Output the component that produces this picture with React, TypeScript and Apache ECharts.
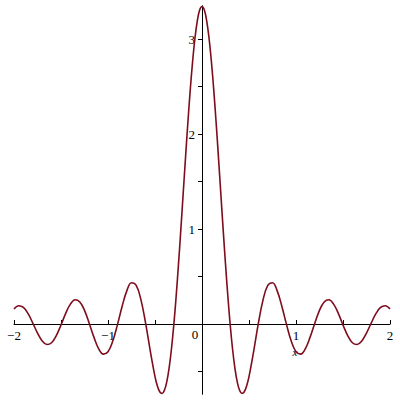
import React, { useEffect, useRef } from "react";
import * as echarts from "echarts";

const xValues = [
  -2, -1.95, -1.9, -1.85, -1.8, -1.75, -1.7, -1.65, -1.6, -1.55, -1.5, -1.45, -1.4, -1.35, -1.3, -1.25,
  -1.2, -1.15, -1.1, -1.05, -1, -0.95, -0.9, -0.85, -0.8, -0.75, -0.7, -0.65, -0.6, -0.55, -0.5, -0.475,
  -0.45, -0.425, -0.4, -0.375, -0.35, -0.325, -0.3, -0.275, -0.25, -0.225, -0.2, -0.175, -0.15, -0.125,
  -0.1, -0.075, -0.05, -0.025, 0,
  0.025, 0.05, 0.075, 0.1, 0.125, 0.15, 0.175, 0.2, 0.225, 0.25, 0.275, 0.3, 0.325, 0.35, 0.375, 0.4,
  0.425, 0.45, 0.475, 0.5, 0.55, 0.6, 0.65, 0.7, 0.75, 0.8, 0.85, 0.9, 0.95, 1, 1.05, 1.1, 1.15, 1.2,
  1.25, 1.3, 1.35, 1.4, 1.45, 1.5, 1.55, 1.6, 1.65, 1.7, 1.75, 1.8, 1.85, 1.9, 1.95, 2,
];

const yValues = [
  0.158, 0.192, 0.174, 0.109, 0.01, -0.095, -0.178, -0.216, -0.197, -0.122, -0.01, 0.112, 0.209, 0.255,
  0.232, 0.144, 0.009, -0.138, -0.259, -0.317, -0.292, -0.182, -0.009, 0.185, 0.349, 0.434, 0.406, 0.257,
  0.009, -0.285, -0.553, -0.651, -0.713, -0.731, -0.698, -0.61, -0.465, -0.263, -0.009, 0.292, 0.631,
  0.996, 1.376, 1.757, 2.124, 2.464, 2.762, 3.008, 3.191, 3.304, 3.342,
  3.304, 3.191, 3.008, 2.762, 2.464, 2.124, 1.757, 1.376, 0.996, 0.631, 0.292, -0.009, -0.263, -0.465,
  -0.61, -0.698, -0.731, -0.713, -0.651, -0.553, -0.285, 0.009, 0.257, 0.406, 0.434, 0.349, 0.185,
  -0.009, -0.182, -0.292, -0.317, -0.259, -0.138, 0.009, 0.144, 0.232, 0.255, 0.209, 0.112, -0.01,
  -0.122, -0.197, -0.216, -0.178, -0.095, 0.01, 0.109, 0.174, 0.192, 0.158,
];

const xTickValues = [-2, -1.5, -1, -0.5, 0.5, 1, 1.5, 2];
const xLabelValues = [-2, -1, 1, 2];
const yTickValues = [-0.5, 0.5, 1, 1.5, 2, 2.5, 3];
const yLabelValues = [1, 2, 3];

const FONT = "Liberation Serif";
const X_MIN = -2;
const X_MAX = 2;
const Y_MIN = -0.74;
const Y_MAX = 3.35;
const G_LEFT = 14;
const G_RIGHT = 10;
const G_TOP = 5.75;
const G_BOTTOM = 5.7;

function fmt(v: number) {
  return v < 0 ? "\u2212" + Math.abs(v) : String(v);
}

export default function App() {
  const ref = useRef<HTMLDivElement>(null);
  useEffect(() => {
    if (!ref.current) return;
    const chart = echarts.init(ref.current, null, { renderer: "svg" });
    const data = xValues.map((x, i) => [x, yValues[i]]);
    const gw = 400 - G_LEFT - G_RIGHT;
    const gh = 400 - G_TOP - G_BOTTOM;
    const zeroX = G_LEFT + ((0 - X_MIN) / (X_MAX - X_MIN)) * gw;
    const zeroY = G_TOP + ((Y_MAX - 0) / (Y_MAX - Y_MIN)) * gh;
    const xOffset = -(400 - G_BOTTOM - zeroY);
    const yOffset = -(zeroX - G_LEFT);
    chart.setOption({
      animation: false,
      backgroundColor: "#ffffff",
      grid: {
        left: G_LEFT,
        right: G_RIGHT,
        top: G_TOP,
        bottom: G_BOTTOM,
        containLabel: false,
        outerBoundsMode: "none",
      },
      xAxis: {
        type: "value",
        position: "bottom",
        offset: xOffset,
        min: X_MIN,
        max: X_MAX,
        axisLine: { show: true, onZero: false, lineStyle: { color: "#000", width: 1 } },
        axisTick: { show: true, inside: true, length: 4, customValues: xTickValues, lineStyle: { color: "#000" } },
        axisLabel: {
          show: true,
          customValues: xLabelValues,
          formatter: (v: number) => fmt(v),
          margin: 5,
          color: "#000",
          fontFamily: FONT,
          fontSize: 13,
        },
        splitLine: { show: false },
      },
      yAxis: {
        type: "value",
        position: "left",
        offset: yOffset,
        min: Y_MIN,
        max: Y_MAX,
        axisLine: { show: true, onZero: false, lineStyle: { color: "#000", width: 1 } },
        axisTick: { show: true, inside: false, length: 4, customValues: yTickValues, lineStyle: { color: "#000" } },
        axisLabel: {
          show: true,
          customValues: yLabelValues,
          formatter: (v: number) => fmt(v),
          margin: 7,
          color: "#000",
          fontFamily: FONT,
          fontSize: 13,
        },
        splitLine: { show: false },
      },
      graphic: [
        {
          type: "text",
          x: 195,
          y: 334,
          style: { text: "0", fill: "#000", font: `13px "${FONT}"`, textAlign: "center", textVerticalAlign: "middle" },
        },
        {
          type: "text",
          x: 295,
          y: 352,
          style: { text: "x", fill: "#000", font: `italic 11px "${FONT}"`, textAlign: "center", textVerticalAlign: "middle" },
        },
      ],
      series: [
        {
          type: "line",
          data,
          smooth: 0.4,
          showSymbol: false,
          symbol: "none",
          lineStyle: { color: "#7d0c1c", width: 1.6 },
        },
      ],
    });
    return () => chart.dispose();
  }, []);
  return <div ref={ref} style={{ width: 400, height: 400, position: "absolute", left: 0, top: 0 }} />;
}
